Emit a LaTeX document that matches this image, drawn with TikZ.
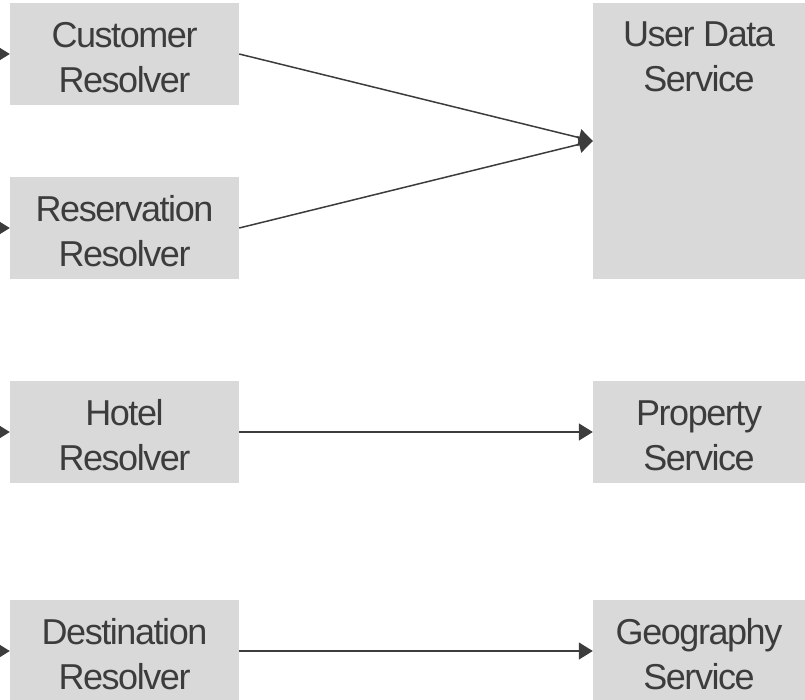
\documentclass[tikz,border=0pt]{standalone}
\usepackage{fontspec}
\setmainfont{Liberation Sans}[LetterSpace=-4]
\usetikzlibrary{arrows.meta}
\definecolor{boxfill}{HTML}{D9D9D9}
\definecolor{ink}{HTML}{3C3C3C}
\tikzset{
  boxtxt/.style={text=ink, align=center, inner sep=0pt, font=\fontsize{36}{45}\selectfont},
  box/.style={fill=boxfill, draw=none, minimum width=229pt, minimum height=102pt, inner sep=0pt,
    label={[boxtxt, yshift=-3.5pt]center:{#1}}},
  conn/.style={draw=ink, line width=1.5pt, -{Triangle[length=14pt,width=17pt]}}
}
\begin{document}
\begin{tikzpicture}[x=1pt,y=-1pt]
\useasboundingbox (0,0) rectangle (805,699);
\clip (0,0) rectangle (805,699);
\node[box={Customer\\Resolver}] (cust) at (124.5,54) {};
\node[box={Reservation\\Resolver}] (resv) at (124.5,228) {};
\node[box={Hotel\\Resolver}] (hotel) at (124.5,432) {};
\node[box={Destination\\Resolver}] (dest) at (124.5,651) {};
\node[fill=boxfill, draw=none, inner sep=0pt, minimum width=212pt, minimum height=276pt] (udata) at (699,141) {};
\node[boxtxt, anchor=north] (udlabel) at ([yshift=-19pt]udata.north) {User Data\\Service};
\node[box={Property\\Service}, minimum width=212pt] (prop) at (699,432) {};
\node[box={Geography\\Service}, minimum width=212pt] (geo) at (699,651) {};
\coordinate (c1) at (-30,54);
\coordinate (c2) at (-30,228);
\coordinate (c3) at (-30,432);
\coordinate (c4) at (-30,651);
\draw[conn] (c1) -- (cust.west);
\draw[conn] (c2) -- (resv.west);
\draw[conn] (c3) -- (hotel.west);
\draw[conn] (c4) -- (dest.west);
\draw[conn] (cust.east) -- (udata.west);
\draw[conn] (resv.east) -- (udata.west);
\draw[conn] (hotel.east) -- (prop.west);
\draw[conn] (dest.east) -- (geo.west);
\end{tikzpicture}
\end{document}
